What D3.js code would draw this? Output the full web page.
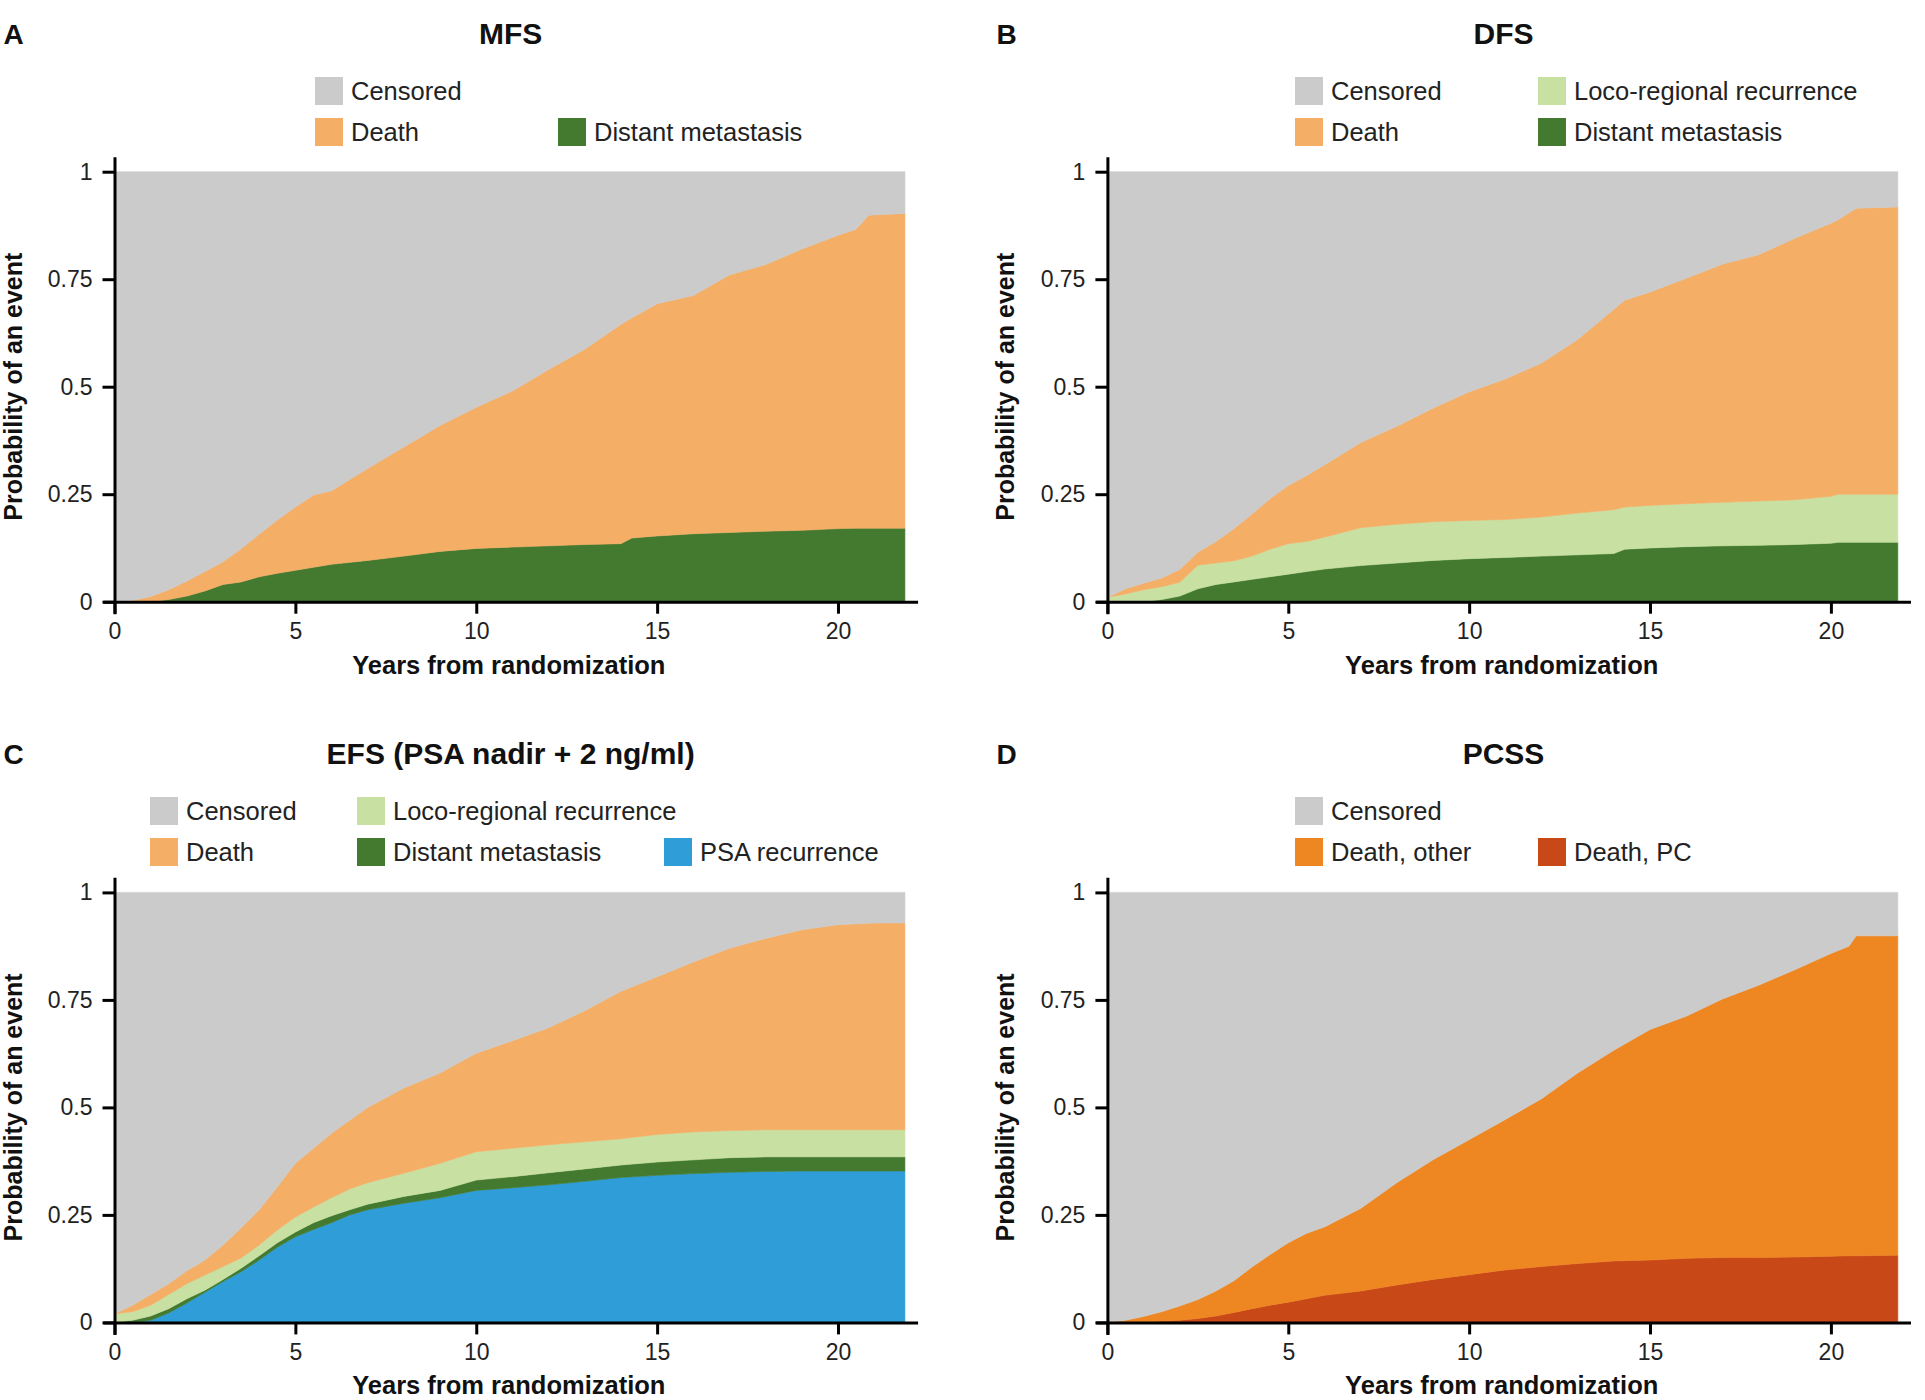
<!DOCTYPE html>
<html>
<head>
<meta charset="utf-8">
<script src="https://cdn.jsdelivr.net/npm/d3@7/dist/d3.min.js"></script>
<style>
  html, body { margin: 0; padding: 0; background: #ffffff; }
  svg { display: block; font-family: "Liberation Sans", Arial, sans-serif; }
</style>
</head>
<body>
<svg id="chart" width="1925" height="1400"></svg>
<script>
// ---------------- DATA ----------------
const xTickValues = [0, 5, 10, 15, 20];
const yTickValues = [0, 0.25, 0.5, 0.75, 1];
const yTickLabels = ["0", "0.25", "0.5", "0.75", "1"];

// Panel A – MFS
const mfsTime     = [0,0.5,1,1.5,2,2.5,3,3.5,4,4.5,5,5.5,6,7,8,9,10,11,12,13,14,14.3,15,16,17,18,19,20,20.5,20.85,21.85];
const mfsDistant  = [0,0,0,0.005,0.013,0.025,0.04,0.046,0.058,0.066,0.073,0.08,0.087,0.096,0.106,0.117,0.124,0.127,0.13,0.133,0.135,0.148,0.153,0.158,0.161,0.164,0.166,0.17,0.171,0.171,0.171];
const mfsDeath    = [0,0.003,0.012,0.023,0.035,0.045,0.053,0.077,0.099,0.124,0.147,0.168,0.171,0.214,0.254,0.293,0.328,0.363,0.41,0.454,0.51,0.512,0.54,0.554,0.599,0.62,0.654,0.682,0.695,0.728,0.732];

// Panel B – DFS
const dfsTime     = [0,0.5,1,1.5,2,2.5,3,3.5,4,4.5,5,5.5,6,7,8,9,10,11,12,13,14,14.3,15,16,17,18,19,20,20.2,20.7,21.85];
const dfsDistant  = [0,0,0,0.005,0.013,0.03,0.04,0.046,0.052,0.058,0.064,0.07,0.076,0.084,0.09,0.096,0.1,0.103,0.106,0.109,0.112,0.122,0.125,0.128,0.13,0.131,0.133,0.136,0.138,0.138,0.138];
const dfsLocal    = [0.01,0.018,0.028,0.03,0.032,0.055,0.05,0.049,0.054,0.064,0.071,0.07,0.074,0.088,0.09,0.09,0.089,0.088,0.091,0.097,0.102,0.098,0.099,0.1,0.101,0.103,0.104,0.109,0.112,0.112,0.112];
const dfsDeath    = [0,0.012,0.015,0.02,0.03,0.03,0.05,0.075,0.098,0.118,0.135,0.153,0.168,0.198,0.228,0.264,0.299,0.327,0.358,0.404,0.466,0.481,0.496,0.524,0.554,0.573,0.608,0.635,0.638,0.665,0.668];

// Panel C – EFS (PSA nadir + 2 ng/ml)
const efsTime     = [0,0.5,1,1.5,2,2.5,3,3.5,4,4.5,5,5.5,6,6.5,7,8,9,10,11,12,13,14,15,16,17,18,19,20,21,21.85];
const efsPSA      = [0,0,0.005,0.022,0.045,0.07,0.095,0.118,0.145,0.175,0.199,0.216,0.232,0.25,0.262,0.277,0.29,0.307,0.313,0.32,0.328,0.337,0.342,0.346,0.349,0.351,0.352,0.352,0.352,0.352];
const efsDistant  = [0,0.005,0.01,0.01,0.01,0.005,0.005,0.008,0.01,0.01,0.011,0.016,0.016,0.012,0.013,0.016,0.017,0.024,0.026,0.028,0.029,0.029,0.031,0.032,0.034,0.034,0.033,0.033,0.033,0.033];
const efsLocal    = [0.02,0.02,0.025,0.033,0.035,0.035,0.03,0.024,0.025,0.03,0.035,0.036,0.042,0.048,0.05,0.054,0.063,0.066,0.066,0.065,0.063,0.061,0.064,0.065,0.063,0.063,0.063,0.063,0.063,0.063];
const efsDeath    = [0,0.015,0.025,0.025,0.03,0.035,0.05,0.07,0.082,0.1,0.125,0.137,0.15,0.16,0.175,0.198,0.21,0.229,0.25,0.272,0.305,0.343,0.367,0.395,0.424,0.445,0.465,0.477,0.481,0.481];

// Panel D – PCSS
const pcssTime       = [0,0.5,1,1.5,2,2.5,3,3.5,4,4.5,5,5.5,6,7,8,9,10,11,12,13,14,15,16,17,18,19,20,20.5,20.7,21.85];
const pcssDeathPC    = [0,0,0,0.003,0.005,0.009,0.015,0.023,0.032,0.04,0.047,0.055,0.063,0.073,0.087,0.1,0.111,0.122,0.13,0.137,0.143,0.145,0.149,0.151,0.151,0.152,0.154,0.155,0.155,0.156];
const pcssDeathOther = [0,0.005,0.014,0.022,0.033,0.044,0.058,0.074,0.097,0.118,0.138,0.152,0.159,0.192,0.238,0.278,0.314,0.35,0.39,0.443,0.49,0.536,0.563,0.601,0.633,0.668,0.704,0.72,0.744,0.743];

// ---------------- STYLE ----------------
const COLORS = {
  censored: "#cbcbcb",
  death: "#f4ae66",
  distant: "#447a2f",
  local: "#c8e1a3",
  psa: "#2e9dd8",
  deathOther: "#ee8621",
  deathPC: "#c94818"
};
const LABELS = {
  censored: "Censored",
  death: "Death",
  distant: "Distant metastasis",
  local: "Loco-regional recurrence",
  psa: "PSA recurrence",
  deathOther: "Death, other",
  deathPC: "Death, PC"
};

const panels = [
  { letter: "A", title: "MFS", ox: 114.5, oy: 601.7, time: mfsTime,
    layers: [["distant", mfsDistant], ["death", mfsDeath]],
    legend: { cols: [315, 558], rows: [91, 132],
      items: [["censored",0,0],["death",0,1],["distant",1,1]] } },
  { letter: "B", title: "DFS", ox: 1107.4, oy: 601.7, time: dfsTime,
    layers: [["distant", dfsDistant], ["local", dfsLocal], ["death", dfsDeath]],
    legend: { cols: [1295, 1538], rows: [91, 132],
      items: [["censored",0,0],["death",0,1],["local",1,0],["distant",1,1]] } },
  { letter: "C", title: "EFS (PSA nadir + 2 ng/ml)", ox: 114.5, oy: 1322.4, time: efsTime,
    layers: [["psa", efsPSA], ["distant", efsDistant], ["local", efsLocal], ["death", efsDeath]],
    legend: { cols: [150, 357, 664], rows: [811, 852],
      items: [["censored",0,0],["death",0,1],["local",1,0],["distant",1,1],["psa",2,1]] } },
  { letter: "D", title: "PCSS", ox: 1107.4, oy: 1322.4, time: pcssTime,
    layers: [["deathPC", pcssDeathPC], ["deathOther", pcssDeathOther]],
    legend: { cols: [1295, 1538], rows: [811, 852],
      items: [["censored",0,0],["deathOther",0,1],["deathPC",1,1]] } }
];

const PLOT_W = 723.5;   // pixels for 20 years
const PLOT_H = 430;     // pixels for probability 0..1

const svg = d3.select("#chart");

panels.forEach(p => {
  const g = svg.append("g").attr("transform", `translate(${p.ox},${p.oy})`);
  const x = d3.scaleLinear().domain([0, 20]).range([0, PLOT_W]);
  const y = d3.scaleLinear().domain([0, 1]).range([0, -PLOT_H]);

  // rows for stacking
  const keys = p.layers.map(l => l[0]).concat(["censored"]);
  const rows = p.time.map((t, i) => {
    const r = { t };
    let s = 0;
    p.layers.forEach(([k, arr]) => { r[k] = arr[i]; s += arr[i]; });
    r.censored = 1 - s;
    return r;
  });
  const stacked = d3.stack().keys(keys)(rows);
  const area = d3.area()
    .x(d => x(d.data.t))
    .y0(d => y(d[0]))
    .y1(d => y(d[1]))
    .curve(d3.curveLinear);

  g.selectAll("path.layer").data(stacked).join("path")
    .attr("class", "layer")
    .attr("fill", d => COLORS[d.key])
    .attr("stroke", d => COLORS[d.key])
    .attr("stroke-width", 0.6)
    .attr("d", area);

  // axes (lines extend slightly beyond the data range, as in the reference)
  const xAx = x.copy().domain([-0.32, 22.2]).range([x(-0.32), x(22.2)]);
  const yAx = y.copy().domain([-0.028, 1.035]).range([y(-0.028), y(1.035)]);

  const xAxis = g.append("g")
    .call(d3.axisBottom(xAx).tickValues(xTickValues).tickFormat(d3.format("d"))
      .tickSize(12).tickSizeOuter(0).tickPadding(9));
  const yAxis = g.append("g")
    .call(d3.axisLeft(yAx).tickValues(yTickValues)
      .tickFormat((d, i) => yTickLabels[i]).tickSize(12).tickSizeOuter(0).tickPadding(10));

  [xAxis, yAxis].forEach(a => {
    a.select(".domain").attr("stroke", "#000").attr("stroke-width", 3);
    a.selectAll(".tick line").attr("stroke", "#000").attr("stroke-width", 3);
    a.selectAll(".tick text").attr("fill", "#222").attr("font-size", 23)
      .attr("font-family", "'Liberation Sans', Arial, sans-serif");
  });

  // axis titles
  g.append("text")
    .attr("x", x(10.9)).attr("y", 72)
    .attr("text-anchor", "middle")
    .attr("font-size", 25.5).attr("font-weight", "bold").attr("fill", "#111")
    .text("Years from randomization");
  g.append("text")
    .attr("transform", `translate(${-93},${y(0.5)}) rotate(-90)`)
    .attr("text-anchor", "middle")
    .attr("font-size", 25).attr("font-weight", "bold").attr("fill", "#111")
    .text("Probability of an event");

  // panel title and letter
  const titleY = p.oy - 558;
  svg.append("text")
    .attr("x", p.ox + x(10.95)).attr("y", titleY)
    .attr("text-anchor", "middle")
    .attr("font-size", 30).attr("font-weight", "bold").attr("fill", "#111")
    .text(p.title);
  svg.append("text")
    .attr("x", p.ox - 111).attr("y", titleY)
    .attr("font-size", 28).attr("font-weight", "bold").attr("fill", "#111")
    .text(p.letter);

  // legend
  const lg = svg.append("g");
  p.legend.items.forEach(([k, c, r]) => {
    const lx = p.legend.cols[c], ly = p.legend.rows[r];
    lg.append("rect")
      .attr("x", lx).attr("y", ly - 14).attr("width", 28).attr("height", 28)
      .attr("fill", COLORS[k]);
    lg.append("text")
      .attr("x", lx + 36).attr("y", ly + 9)
      .attr("font-size", 25.5).attr("fill", "#222")
      .text(LABELS[k]);
  });
});
</script>
</body>
</html>
